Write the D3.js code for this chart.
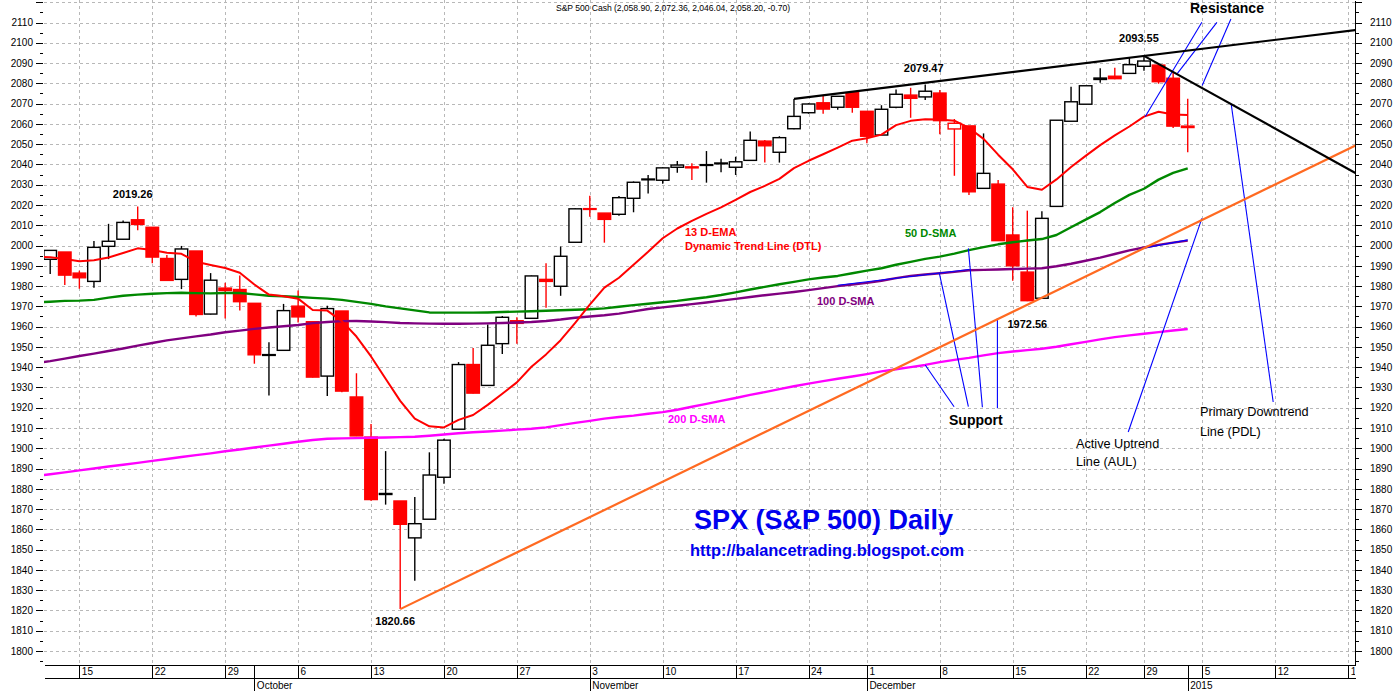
<!DOCTYPE html>
<html lang="en">
<head>
<meta charset="utf-8">
<title>SPX (S&P 500) Daily</title>
<script src="https://cdn.jsdelivr.net/npm/d3@7"></script>
<style>
  html, body { margin: 0; padding: 0; background: #fff; }
  svg { display: block; font-family: Arial, "Liberation Sans", sans-serif; }
</style>
</head>
<body>
<svg id="chart" width="1398" height="691"></svg>
<script>
// ==========================================================================
// DATA
// ==========================================================================

// Trading days, Sep 11 2014 .. Jan 2 2015
const dates = [
  'Sep 11', 'Sep 12', 'Sep 15', 'Sep 16', 'Sep 17', 'Sep 18', 'Sep 19', 'Sep 22', 'Sep 23', 'Sep 24',
  'Sep 25', 'Sep 26', 'Sep 29', 'Sep 30', 'Oct 1', 'Oct 2', 'Oct 3', 'Oct 6', 'Oct 7', 'Oct 8',
  'Oct 9', 'Oct 10', 'Oct 13', 'Oct 14', 'Oct 15', 'Oct 16', 'Oct 17', 'Oct 20', 'Oct 21', 'Oct 22',
  'Oct 23', 'Oct 24', 'Oct 27', 'Oct 28', 'Oct 29', 'Oct 30', 'Oct 31', 'Nov 3', 'Nov 4', 'Nov 5',
  'Nov 6', 'Nov 7', 'Nov 10', 'Nov 11', 'Nov 12', 'Nov 13', 'Nov 14', 'Nov 17', 'Nov 18', 'Nov 19',
  'Nov 20', 'Nov 21', 'Nov 24', 'Nov 25', 'Nov 26', 'Nov 28', 'Dec 1', 'Dec 2', 'Dec 3', 'Dec 4',
  'Dec 5', 'Dec 8', 'Dec 9', 'Dec 10', 'Dec 11', 'Dec 12', 'Dec 15', 'Dec 16', 'Dec 17', 'Dec 18',
  'Dec 19', 'Dec 22', 'Dec 23', 'Dec 24', 'Dec 26', 'Dec 29', 'Dec 30', 'Dec 31', 'Jan 2'
];

const opens = [
  1993.2, 1996.8, 1986.4, 1982.3, 1999.6, 2003.1, 2012.7, 2009.0, 1993.6, 1983.3,
  1997.3, 1966.2, 1979.0, 1978.3, 1971.5, 1945.8, 1948.3, 1970.1, 1962.4, 1935.6,
  1967.7, 1925.3, 1905.5, 1877.2, 1874.0, 1855.8, 1865.0, 1885.7, 1909.4, 1941.3,
  1931.0, 1951.6, 1962.9, 1964.1, 1983.3, 1979.9, 2001.6, 2018.2, 2016.0, 2015.4,
  2023.3, 2032.5, 2032.2, 2038.6, 2038.8, 2039.8, 2040.6, 2038.6, 2042.0, 2051.5,
  2046.0, 2057.6, 2065.5, 2070.4, 2068.2, 2075.4, 2066.2, 2054.5, 2068.2, 2074.2,
  2073.3, 2075.2, 2057.5, 2059.0, 2028.2, 2030.3, 2005.2, 1986.9, 1974.0, 2019.3,
  2061.3, 2069.7, 2081.9, 2083.5, 2084.9, 2088.4, 2089.0, 2082.5, 2058.9
];
const highs = [
  1997.8, 1996.8, 1987.6, 2002.2, 2010.7, 2012.3, 2019.26, 2009.1, 1995.3, 1999.8,
  1997.3, 1986.4, 1981.7, 1985.2, 1971.5, 1952.3, 1971.2, 1977.8, 1962.4, 1970.3,
  1967.7, 1937.0, 1912.0, 1898.6, 1874.0, 1876.0, 1898.0, 1904.7, 1942.5, 1949.4,
  1961.0, 1965.2, 1964.6, 1985.2, 1991.3, 1999.5, 2018.4, 2024.6, 2016.0, 2024.4,
  2031.6, 2034.8, 2038.6, 2041.7, 2040.6, 2046.6, 2042.8, 2043.8, 2056.3, 2052.0,
  2053.9, 2072.3, 2070.2, 2073.9, 2073.8, 2075.8, 2066.2, 2069.2, 2077.0, 2077.8,
  2079.47, 2076.7, 2062.4, 2059.0, 2055.3, 2032.3, 2018.9, 2017.2, 2016.9, 2061.8,
  2078.3, 2078.8, 2087.4, 2087.7, 2092.7, 2093.55, 2089.0, 2085.6, 2072.36
];
const lows = [
  1986.0, 1980.5, 1978.7, 1979.2, 1993.3, 2003.0, 2007.5, 1991.2, 1982.5, 1978.5,
  1965.0, 1966.0, 1964.0, 1968.0, 1941.7, 1926.0, 1948.2, 1962.0, 1934.9, 1925.8,
  1927.6, 1906.0, 1874.1, 1872.2, 1820.66, 1834.7, 1865.0, 1882.5, 1909.4, 1927.0,
  1931.0, 1946.5, 1951.6, 1964.0, 1969.3, 1975.2, 2001.6, 2014.2, 2001.4, 2014.7,
  2016.4, 2025.6, 2030.5, 2035.9, 2032.3, 2031.0, 2036.1, 2034.8, 2042.0, 2040.9,
  2040.9, 2057.3, 2065.0, 2065.0, 2067.0, 2065.5, 2050.4, 2054.5, 2067.7, 2063.0,
  2071.8, 2054.9, 2034.4, 2024.9, 2028.2, 2002.4, 1982.6, 1972.56, 1973.8, 2019.3,
  2061.3, 2069.7, 2080.3, 2082.0, 2084.9, 2086.2, 2079.8, 2058.0, 2046.04
];
const closes = [
  1997.6, 1985.4, 1984.1, 1999.1, 2002.1, 2011.4, 2010.4, 1994.3, 1982.8, 1998.3,
  1966.0, 1982.9, 1977.8, 1972.3, 1946.1, 1946.2, 1967.9, 1964.8, 1935.1, 1968.9,
  1928.2, 1906.1, 1874.7, 1877.7, 1862.5, 1862.8, 1886.8, 1904.0, 1941.3, 1927.2,
  1950.8, 1964.6, 1961.6, 1985.0, 1982.3, 1994.7, 2018.1, 2017.8, 2012.9, 2023.6,
  2031.2, 2032.8, 2038.3, 2039.7, 2038.3, 2039.9, 2040.7, 2041.3, 2051.9, 2049.2,
  2053.2, 2063.7, 2069.8, 2067.3, 2073.6, 2068.2, 2053.9, 2067.2, 2074.6, 2072.6,
  2076.1, 2061.6, 2060.3, 2026.5, 2035.6, 2002.4, 1990.0, 1972.8, 2013.4, 2061.8,
  2070.9, 2078.8, 2082.6, 2082.3, 2089.2, 2091.0, 2080.8, 2058.9, 2058.2
];

// Indicator lines; the first value is Sep 10, one day left of the first candle
const ema13 = [
  1994.6, 1994.2, 1993.4, 1992.2, 1992.7, 1994.1, 1996.3, 1998.6, 1997.8, 1996.4,
  1995.9, 1992.0, 1990.4, 1988.9, 1986.6, 1980.8, 1975.8, 1975.0, 1973.8, 1968.2,
  1967.9, 1962.7, 1955.1, 1945.3, 1934.3, 1923.4, 1914.6, 1910.8, 1910.3, 1914.0,
  1916.4, 1921.4, 1926.9, 1932.5, 1940.2, 1946.3, 1953.3, 1961.9, 1970.8, 1979.2,
  1984.1, 1990.5, 1996.9, 2003.6, 2008.4, 2012.2, 2015.6, 2018.8, 2022.5, 2026.4,
  2029.4, 2032.9, 2038.2, 2041.8, 2045.0, 2048.3, 2051.7, 2052.9, 2054.7, 2059.4,
  2061.5, 2062.3, 2062.2, 2061.6, 2058.0, 2052.6, 2044.8, 2037.6, 2028.9, 2027.5,
  2032.6, 2038.7, 2044.2, 2049.5, 2054.3, 2058.7, 2063.6, 2066.0, 2064.6, 2064.4
];
const sma50 = [
  1972.0, 1972.3, 1972.7, 1972.8, 1973.2, 1974.3, 1975.2, 1975.8, 1976.2, 1976.5,
  1976.7, 1976.5, 1976.4, 1976.6, 1976.6, 1975.9, 1975.2, 1975.0, 1974.6, 1974.2,
  1973.8, 1973.2, 1972.2, 1971.2, 1970.0, 1969.0, 1968.0, 1967.0, 1966.9, 1966.9,
  1966.9, 1967.0, 1967.2, 1967.4, 1967.6, 1967.8, 1968.1, 1968.3, 1968.6, 1969.0,
  1969.8, 1970.6, 1971.3, 1972.0, 1972.7, 1973.6, 1974.5, 1975.6, 1976.9, 1978.3,
  1979.6, 1980.9, 1982.1, 1983.3, 1984.2, 1985.0, 1986.3, 1987.6, 1988.8, 1990.5,
  1991.9, 1993.4, 1994.5, 1996.0, 1997.7, 1999.2, 2000.6, 2001.6, 2002.5, 2003.2,
  2005.2, 2009.0, 2012.8, 2016.5, 2021.0, 2025.0, 2028.0, 2032.5, 2035.8, 2038.1
];
const sma100 = [
  1942.0, 1943.0, 1944.2, 1945.5, 1946.7, 1948.0, 1949.2, 1950.6, 1951.9, 1953.2,
  1954.2, 1955.2, 1956.1, 1957.2, 1958.0, 1958.9, 1959.6, 1960.2, 1960.8, 1961.7,
  1962.3, 1962.7, 1962.8, 1962.5, 1962.2, 1961.8, 1961.6, 1961.5, 1961.4, 1961.4,
  1961.5, 1961.6, 1961.8, 1962.0, 1962.3, 1962.8, 1963.5, 1964.4, 1965.0, 1965.6,
  1966.4, 1967.5, 1968.7, 1969.5, 1970.3, 1971.1, 1971.9, 1972.8, 1973.7, 1974.6,
  1975.5, 1976.3, 1977.1, 1978.0, 1979.0, 1980.0, 1980.8, 1981.6, 1982.6, 1983.9,
  1985.0, 1985.7, 1986.3, 1987.0, 1987.8, 1988.0, 1988.2, 1988.4, 1988.6, 1988.8,
  1989.8, 1991.0, 1992.5, 1994.0, 1995.8, 1997.6, 1999.0, 2000.3, 2001.4, 2002.4
];
const sma200 = [
  1886.3, 1887.2, 1888.1, 1889.1, 1890.0, 1891.0, 1891.9, 1892.8, 1893.8, 1894.7,
  1895.7, 1896.6, 1897.5, 1898.5, 1899.4, 1900.4, 1901.3, 1902.2, 1903.2, 1904.1,
  1904.7, 1904.9, 1905.0, 1905.2, 1905.3, 1905.5, 1905.7, 1906.2, 1906.8, 1907.4,
  1907.9, 1908.3, 1908.7, 1909.2, 1909.6, 1910.3, 1911.4, 1912.5, 1913.5, 1914.6,
  1915.4, 1916.1, 1917.0, 1917.8, 1919.0, 1920.5, 1921.9, 1923.4, 1924.8, 1926.3,
  1927.7, 1929.2, 1930.6, 1931.9, 1933.1, 1934.3, 1935.4, 1936.6, 1937.9, 1939.0,
  1940.0, 1941.1, 1942.5, 1943.6, 1944.6, 1945.8, 1946.9, 1947.7, 1948.4, 1949.1,
  1950.1, 1951.3, 1952.5, 1953.7, 1954.8, 1955.7, 1956.5, 1957.3, 1958.1, 1958.8
];

// Hand drawn lines, as [day index, price] pairs
const resistanceLine = [[51, 2072.3], [89.5, 2106.3]];
const downtrendLine = [[75, 2093.55], [89.5, 2035.8]];
const uptrendLine = [[24, 1820.66], [89.5, 2049.3]];
const pointerLines = [
  [[60.0, 1941.1], [61.98, 1920.5]],
  [[60.97, 1986.3], [62.96, 1920.5]],
  [[62.96, 1998.6], [63.92, 1920.2]],
  [[64.95, 1964.1], [64.95, 1919.7]],
  [[78.97, 2110.1], [75.08, 2063.5]],
  [[80.0, 2110.1], [77.28, 2084.8]],
  [[80.96, 2111.7], [78.99, 2078.9]],
  [[78.97, 2013.4], [73.92, 1908.0]],
  [[80.98, 2069.8], [83.86, 1922.8]],
  [[54.0, 1980.4], [63.0, 1988.2]],
  [[74.7, 1998.3], [78.0, 2002.8]]
];

// Marked highs and lows
const pivotIdx = [6, 24, 60, 67, 75];
const pivotValues = [2019.26, 1820.66, 2079.47, 1972.56, 2093.55];

// Date axis
const weekIdx = [2, 7, 12, 17, 22, 27, 32, 37, 42, 47, 52, 56, 61, 66, 71, 75, 79, 84, 89];
const weekLabels = ['15', '22', '29', '6', '13', '20', '27', '3', '10', '17', '24', '1', '8', '15', '22', '29', '5', '12', '19'];
const monthIdx = [14, 37, 56, 78];
const monthLabels = ['October', 'November', 'December', '2015'];

// ==========================================================================
// LAYOUT
// ==========================================================================

const plot = { left: 44, right: 1355, top: 0, bottom: 665 };
const svg = d3.select('#chart');

const x = d3.scaleLinear().domain([-0.425, 89.47]).range([plot.left, plot.right]);
const y = d3.scaleLinear().domain([1793.1, 2121.1]).range([plot.bottom, plot.top]);
const step = x(1) - x(0);
const bodyW = step * 0.86;

const defs = svg.append('defs');
defs.append('clipPath').attr('id', 'plot-clip')
  .append('rect')
  .attr('x', plot.left).attr('y', plot.top)
  .attr('width', plot.right - plot.left).attr('height', plot.bottom - plot.top);

// local coordinates of the (translated) date axis group
defs.append('clipPath').attr('id', 'axis-clip')
  .append('rect')
  .attr('x', 0).attr('y', -2)
  .attr('width', plot.right).attr('height', 40);

// ==========================================================================
// GRID
// ==========================================================================

const grid = svg.append('g')
  .attr('stroke', '#b8b8b8')
  .attr('stroke-dasharray', '3,3')
  .attr('shape-rendering', 'crispEdges');

grid.selectAll('line.h')
  .data(d3.range(1800, 2121, 10))
  .join('line')
  .attr('class', 'h')
  .attr('x1', plot.left).attr('x2', plot.right)
  .attr('y1', d => Math.round(y(d)) + 0.5).attr('y2', d => Math.round(y(d)) + 0.5);

grid.selectAll('line.v')
  .data(weekIdx)
  .join('line')
  .attr('class', 'v')
  .attr('x1', d => Math.round(x(d)) + 0.5).attr('x2', d => Math.round(x(d)) + 0.5)
  .attr('y1', plot.top).attr('y2', plot.bottom);

// ==========================================================================
// CANDLES
// ==========================================================================

const candles = dates.map((d, i) => ({
  i, o: opens[i], h: highs[i], l: lows[i], c: closes[i],
  up: i === 0 || closes[i] >= closes[i - 1]
}));

const plotArea = svg.append('g').attr('clip-path', 'url(#plot-clip)');
const cg = plotArea.append('g');

cg.selectAll('line.wick')
  .data(candles)
  .join('line')
  .attr('class', 'wick')
  .attr('x1', d => x(d.i)).attr('x2', d => x(d.i))
  .attr('y1', d => y(d.h)).attr('y2', d => y(d.l))
  .attr('stroke', d => d.up ? '#000' : '#f00')
  .attr('stroke-width', 1.4);

cg.selectAll('rect.body')
  .data(candles)
  .join('rect')
  .attr('class', 'body')
  .attr('x', d => x(d.i) - bodyW / 2)
  .attr('width', bodyW)
  .attr('y', d => y(Math.max(d.o, d.c)))
  .attr('height', d => Math.max(Math.abs(y(d.o) - y(d.c)), 0.8))
  .attr('fill', d => d.c < d.o ? (d.up ? '#000' : '#f00') : '#fff')
  .attr('stroke', d => d.up ? '#000' : '#f00')
  .attr('stroke-width', 1.4);

// ==========================================================================
// INDICATORS AND TREND LINES
// ==========================================================================

const indLine = d3.line().x((d, k) => x(k - 1)).y(d => y(d));
const segLine = d3.line().x(p => x(p[0])).y(p => y(p[1]));

[
  { values: sma200, color: '#ff00ff', width: 2.4 },
  { values: sma100, color: '#800080', width: 2.4 },
  { values: sma50, color: '#008800', width: 2.4 },
  { values: ema13, color: '#ff0000', width: 2 }
].forEach(s => {
  plotArea.append('path')
    .attr('d', indLine(s.values))
    .attr('fill', 'none')
    .attr('stroke', s.color)
    .attr('stroke-width', s.width)
    .attr('stroke-linejoin', 'round');
});

plotArea.selectAll('path.pointer')
  .data(pointerLines)
  .join('path')
  .attr('class', 'pointer')
  .attr('d', segLine)
  .attr('fill', 'none')
  .attr('stroke', '#0000ff')
  .attr('stroke-width', 1.1);

plotArea.append('path').attr('d', segLine(uptrendLine))
  .attr('fill', 'none').attr('stroke', '#ff6a21').attr('stroke-width', 2.2);
plotArea.append('path').attr('d', segLine(resistanceLine))
  .attr('fill', 'none').attr('stroke', '#000').attr('stroke-width', 2.2);
plotArea.append('path').attr('d', segLine(downtrendLine))
  .attr('fill', 'none').attr('stroke', '#000').attr('stroke-width', 2.2);

// ==========================================================================
// LABELS
// ==========================================================================

// offsets of each pivot label from its candle: [dx, dy]
const pivotOffsets = [[-5, -8.5], [-5, 16], [-1.5, -12.5], [0, 27], [-5, -14]];
const pivotAtHigh = [true, false, true, false, true];

svg.append('g').selectAll('text')
  .data(pivotIdx)
  .join('text')
  .attr('x', (d, k) => x(d) + pivotOffsets[k][0])
  .attr('y', (d, k) => y(pivotAtHigh[k] ? highs[d] : lows[d]) + pivotOffsets[k][1])
  .attr('text-anchor', 'middle')
  .attr('font-size', 11)
  .attr('font-weight', 'bold')
  .attr('fill', '#000')
  .text((d, k) => pivotValues[k].toFixed(2));

const notes = [
  { t: '13 D-EMA', x: 685, y: 235.5, c: '#ff0000', s: 11, w: 'bold' },
  { t: 'Dynamic Trend Line (DTL)', x: 685, y: 249.5, c: '#ff0000', s: 11, w: 'bold' },
  { t: '50 D-SMA', x: 905, y: 237, c: '#008800', s: 11, w: 'bold' },
  { t: '100 D-SMA', x: 817, y: 305, c: '#800080', s: 11, w: 'bold' },
  { t: '200 D-SMA', x: 668, y: 423, c: '#ff00ff', s: 11, w: 'bold' },
  { t: 'Support', x: 949, y: 425, c: '#000', s: 14, w: 'bold' },
  { t: 'Resistance', x: 1190, y: 13, c: '#000', s: 14, w: 'bold' },
  { t: 'Active Uptrend', x: 1076, y: 447.5, c: '#000', s: 12.7, w: 'normal' },
  { t: 'Line (AUL)', x: 1076, y: 465.5, c: '#000', s: 12.7, w: 'normal' },
  { t: 'Primary Downtrend', x: 1200, y: 415.5, c: '#000', s: 12.7, w: 'normal' },
  { t: 'Line (PDL)', x: 1200, y: 436, c: '#000', s: 12.7, w: 'normal' },
  { t: 'SPX (S&P 500) Daily', x: 694, y: 529, c: '#0000ee', s: 27, w: 'bold' },
  { t: 'http://balancetrading.blogspot.com', x: 690, y: 556, c: '#0000ee', s: 16.4, w: 'bold' }
];

svg.append('g').selectAll('text')
  .data(notes)
  .join('text')
  .attr('x', d => d.x).attr('y', d => d.y)
  .attr('font-size', d => d.s)
  .attr('font-weight', d => d.w)
  .attr('fill', d => d.c)
  .text(d => d.t);

svg.append('text')
  .attr('x', 556).attr('y', 11)
  .attr('font-size', 8.6)
  .attr('textLength', 234)
  .attr('lengthAdjust', 'spacing')
  .text('S&P 500 Cash (2,058.90, 2,072.36, 2,046.04, 2,058.20, -0.70)');

// ==========================================================================
// AXES
// ==========================================================================

function styleAxis(g) {
  g.attr('font-family', 'Arial, "Liberation Sans", sans-serif')
    .attr('font-size', 10)
    .attr('shape-rendering', 'crispEdges');
  g.selectAll('text').attr('fill', '#000');
  g.selectAll('line, path').attr('stroke', '#000');
}

// right price axis
svg.append('g')
  .attr('transform', `translate(${plot.right},0)`)
  .call(d3.axisRight(y).tickValues(d3.range(1800, 2121, 10)).tickSize(7).tickSizeOuter(0)
    .tickPadding(8).tickFormat(d => d > 2110 ? '' : d))
  .call(styleAxis);

svg.append('g')
  .attr('transform', `translate(${plot.right},0)`)
  .call(d3.axisRight(y).tickValues(d3.range(1795, 2121, 10)).tickSize(4).tickFormat(''))
  .call(styleAxis)
  .call(g => g.select('.domain').remove());

// left price axis (ticks only, no spine)
svg.append('g')
  .attr('transform', `translate(${plot.left - 1},0)`)
  .call(d3.axisLeft(y).tickValues(d3.range(1800, 2121, 10)).tickSize(7).tickPadding(3)
    .tickFormat(d => d > 2110 ? '' : d))
  .call(styleAxis)
  .call(g => g.select('.domain').remove());

svg.append('g')
  .attr('transform', `translate(${plot.left - 1},0)`)
  .call(d3.axisLeft(y).tickValues(d3.range(1795, 2121, 10)).tickSize(3.5).tickFormat(''))
  .call(styleAxis)
  .call(g => g.select('.domain').remove());

// date axis: week row
svg.append('g')
  .attr('transform', `translate(0,${plot.bottom})`)
  .attr('clip-path', 'url(#axis-clip)')
  .call(d3.axisBottom(x).tickValues(weekIdx).tickSize(13).tickSizeOuter(0)
    .tickFormat((d, k) => weekLabels[k]))
  .call(styleAxis)
  .call(g => g.selectAll('text')
    .attr('x', 2).attr('y', 3).attr('dy', '0.71em').attr('text-anchor', 'start'));

// date axis: line between week and month rows
svg.append('g')
  .attr('transform', `translate(0,${plot.bottom + 13})`)
  .call(d3.axisBottom(x).tickValues([]).tickSizeOuter(0))
  .call(styleAxis);

// date axis: month row
svg.append('g')
  .attr('transform', `translate(0,${plot.bottom})`)
  .call(d3.axisBottom(x).tickValues(monthIdx).tickSize(26)
    .tickFormat((d, k) => monthLabels[k]))
  .call(styleAxis)
  .call(g => g.select('.domain').remove())
  .call(g => g.selectAll('text')
    .attr('x', 2).attr('y', 16.5).attr('dy', '0.71em').attr('text-anchor', 'start'));
</script>
</body>
</html>
